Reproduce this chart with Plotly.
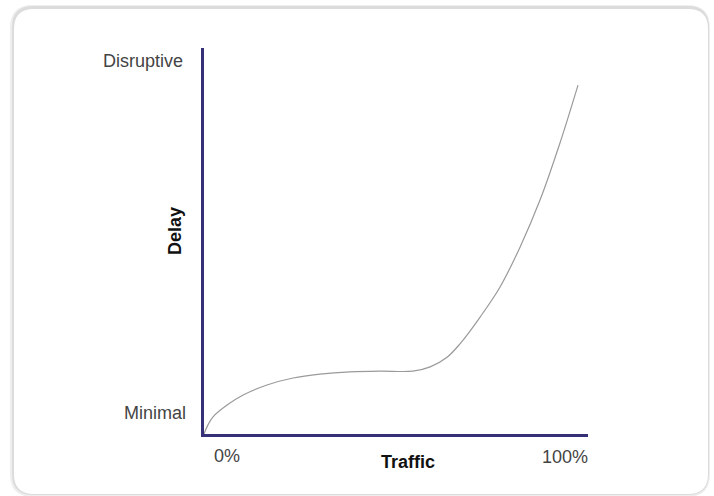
import plotly.graph_objects as go

# Curve (traffic %, delay on 0-100 scale)
traffic = [0, 1.0, 2.3, 6.0, 10.2, 16.4, 23.2, 30.2, 38.0, 45.8, 54.4, 58.9, 63.3,
           66.7, 71.9, 77.1, 82.3, 87.5, 92.7, 97.4]
delay = [0, 2.3, 4.4, 7.5, 10.1, 12.7, 14.5, 15.5, 16.1, 16.3, 16.3, 17.4, 19.9,
         23.4, 30.3, 38.1, 48.4, 60.6, 75.4, 90.4]

y_labels = ["Minimal", "Disruptive"]
x_labels = ["0%", "100%"]
x_title = "Traffic"
y_title = "Delay"

W, H = 714, 496
L, R, T, B = 204, 126, 48, 62
PW, PH = W - L - R, H - T - B


def px(x):
    return (x - L) / PW


def py(y):
    return (H - B - y) / PH


def rounded_rect(x0, y0, x1, y1, r):
    # pixel coords -> paper path
    rx, ry = r / PW, r / PH
    a, b, c, d = px(x0), py(y1), px(x1), py(y0)  # left, bottom, right, top
    return (f"M {a+rx},{d} L {c-rx},{d} Q {c},{d} {c},{d-ry} "
            f"L {c},{b+ry} Q {c},{b} {c-rx},{b} L {a+rx},{b} "
            f"Q {a},{b} {a},{b+ry} L {a},{d-ry} Q {a},{d} {a+rx},{d} Z")


fig = go.Figure()
fig.add_trace(go.Scatter(
    x=traffic, y=delay, mode="lines",
    line=dict(color="#9a9a9a", width=1.2, shape="spline", smoothing=1.0),
    hoverinfo="skip", showlegend=False,
))

shapes = [
    dict(type="path", xref="paper", yref="paper", path=rounded_rect(10, 5, 710, 497, 23),
         fillcolor="#eeeeee", line=dict(width=0), layer="below"),
    dict(type="path", xref="paper", yref="paper", path=rounded_rect(12, 6, 709, 495, 21),
         fillcolor="#dcdcdc", line=dict(width=0), layer="below"),
    dict(type="path", xref="paper", yref="paper", path=rounded_rect(14, 9, 708, 494, 20),
         fillcolor="#ffffff", line=dict(width=0), layer="below"),
]

font = "Liberation Sans, Arial, sans-serif"
annotations = [
    dict(x=px(185), y=py(61), text=y_labels[1], xanchor="right", yanchor="middle",
         font=dict(size=18, color="#444444", family=font)),
    dict(x=px(188), y=py(413), text=y_labels[0], xanchor="right", yanchor="middle",
         font=dict(size=18, color="#444444", family=font)),
    dict(x=px(227), y=py(456), text=x_labels[0], xanchor="center", yanchor="middle",
         font=dict(size=18, color="#444444", family=font)),
    dict(x=px(565), y=py(457), text=x_labels[1], xanchor="center", yanchor="middle",
         font=dict(size=18, color="#444444", family=font)),
    dict(x=px(408), y=py(462), text=f"<b>{x_title}</b>", xanchor="center", yanchor="middle",
         font=dict(size=18, color="#111111", family=font)),
    dict(x=px(175), y=py(231), text=f"<b>{y_title}</b>", textangle=-90, xanchor="center",
         yanchor="middle", font=dict(size=18, color="#111111", family=font)),
]
for a in annotations:
    a.update(xref="paper", yref="paper", showarrow=False)

fig.update_layout(
    width=W, height=H,
    margin=dict(l=L, r=R, t=T, b=B, pad=0),
    paper_bgcolor="#ffffff", plot_bgcolor="rgba(0,0,0,0)",
    xaxis=dict(range=[0, 100], showgrid=False, zeroline=False, showticklabels=False,
               ticks="", showline=True, linecolor="#353078", linewidth=3, fixedrange=True),
    yaxis=dict(range=[0, 100], showgrid=False, zeroline=False, showticklabels=False,
               ticks="", showline=True, linecolor="#353078", linewidth=3, fixedrange=True),
    shapes=shapes, annotations=annotations, showlegend=False,
)

fig.write_html("out.html", config={"displayModeBar": False},
               post_script="document.body.style.margin='0';")
